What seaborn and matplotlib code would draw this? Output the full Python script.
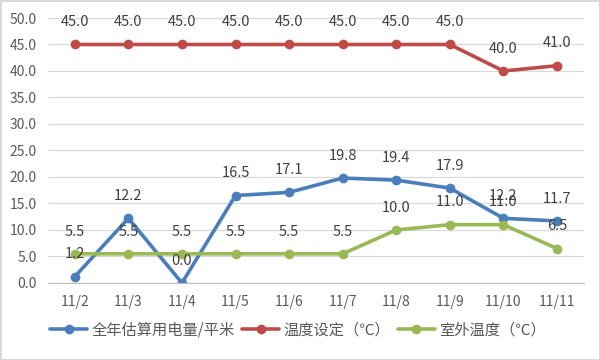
import pandas as pd
import numpy as np
import matplotlib
matplotlib.use("Agg")
import matplotlib.pyplot as plt
import seaborn as sns

dates = ['11/2', '11/3', '11/4', '11/5', '11/6', '11/7', '11/8', '11/9', '11/10', '11/11']
power = [1.2, 12.2, 0.0, 16.5, 17.1, 19.8, 19.4, 17.9, 12.2, 11.7]
setpoint = [45.0, 45.0, 45.0, 45.0, 45.0, 45.0, 45.0, 45.0, 40.0, 41.0]
outdoor = [5.5, 5.5, 5.5, 5.5, 5.5, 5.5, 10.0, 11.0, 11.0, 6.5]
names = ['全年估算用电量/平米', '温度设定（℃）', '室外温度（℃）']
colors = ['#4A7EBB', '#BE4B48', '#98B954']

sns.set_style('white')
plt.rcParams['font.family'] = ['Noto Sans CJK SC', 'DejaVu Sans']

rows = []
for name, vals in zip(names, [power, setpoint, outdoor]):
    for i, v in enumerate(vals):
        rows.append({'idx': i, 'value': v, 'series': name})
df = pd.DataFrame(rows)

fig = plt.figure(figsize=(6, 3.6), dpi=100)
fig.patch.set_edgecolor('#d9d9d9')
fig.patch.set_linewidth(1)
ax = fig.add_axes([0.08, 0.214, 0.893, 0.736])

sns.lineplot(data=df, x='idx', y='value', hue='series', hue_order=names,
             palette=colors, marker='o', markersize=7, markeredgewidth=0,
             linewidth=2.6, ax=ax, legend=True)

# data labels above each point
for name, vals in zip(names, [power, setpoint, outdoor]):
    for i, v in enumerate(vals):
        ax.annotate(f'{v:.1f}', (i, v), xytext=(0, 16), textcoords='offset points',
                    ha='center', va='center', fontsize=10.5, color='#404040')

ax.set_xlim(-0.5, len(dates) - 0.5)
ax.set_ylim(0, 50)
ax.set_yticks(np.arange(0, 51, 5))
ax.set_yticklabels([f'{t:.1f}' for t in np.arange(0, 51, 5)])
ax.set_xticks(range(len(dates)))
ax.set_xticklabels(dates)
ax.set_xticks(np.arange(-0.5, len(dates), 1), minor=True)
ax.tick_params(axis='x', which='major', length=0, pad=9)
ax.tick_params(axis='x', which='minor', length=5, color='#bfbfbf', direction='out')
ax.tick_params(axis='y', length=0, pad=8)
ax.tick_params(labelsize=10, labelcolor='#595959')
ax.grid(axis='y', color='#d9d9d9', linewidth=0.9)
ax.set_axisbelow(True)
for s in ['top', 'right', 'left']:
    ax.spines[s].set_visible(False)
ax.spines['bottom'].set_color('#bfbfbf')
ax.set_xlabel('')
ax.set_ylabel('')

handles, labels = ax.get_legend_handles_labels()
ax.legend(handles, labels, loc='center', bbox_to_anchor=(0.497, 0.083),
          bbox_transform=fig.transFigure, ncol=3, frameon=False, fontsize=11,
          handlelength=2.4, handletextpad=0.3, columnspacing=0.5,
          labelcolor='#595959')

fig.savefig('out.png', dpi=100)
